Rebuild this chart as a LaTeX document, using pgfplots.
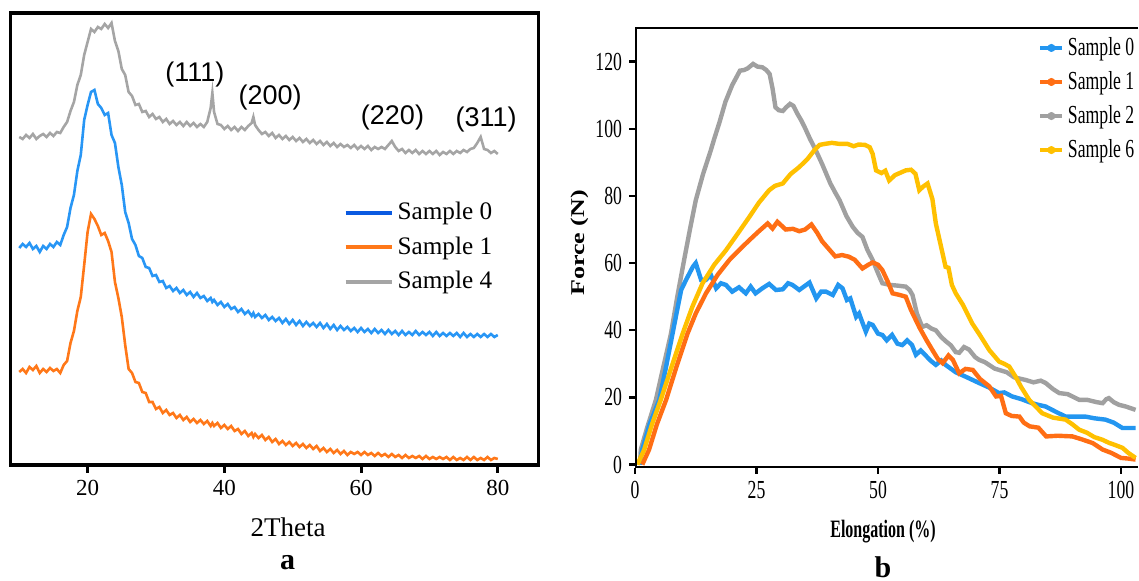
\documentclass[border=0pt]{standalone}
\usepackage{fontspec}
\setmainfont{Liberation Serif}
\newfontfamily\arialfont{Liberation Sans}
\usepackage{graphicx}
\usepackage{pgfplots}
\usepackage{pgfplotstable}
\pgfplotsset{compat=1.18}

\definecolor{xblue}{RGB}{40,150,245}
\definecolor{xblueleg}{RGB}{10,90,225}
\definecolor{xorange}{RGB}{255,120,25}
\definecolor{xgray}{RGB}{165,165,165}
\definecolor{rblue}{RGB}{35,150,240}
\definecolor{rorange}{RGB}{255,110,20}
\definecolor{rgray}{RGB}{160,160,160}
\definecolor{ryellow}{RGB}{255,192,0}

\newcommand\cnd[1]{\scalebox{0.68}[1]{#1}}

% XRD patterns, offset intensities (b = sample 0, o = sample 1, g = sample 4)
\pgfplotstableread{
x b o g
10 217 93 328
10.5 221 96 326
11 218 92 330
11.5 222 98 327
12 216 95 331
12.5 219 99 326
13 213 92 329
13.5 219 96 331
14 216 93 328
14.5 221 97 332
15 218 94 329
15.5 223 96 333
16 220 92 332
16.5 230 100 338
17 238 104 343
17.5 257 122 354
18 270 134 363
18.5 294 154 380
19 310 168 390
19.5 345 200 410
20 360 233 423
20.5 373 251 436
21 375 246 433
21.5 361 239 438
22 357 230 436
22.5 350 232 441
23 352 224 437
23.5 330 213 442
24 322 183 424
24.5 298 167 414
25 280 148 396
25.5 253 120 390
26 242 96 373
26.5 226 92 369
27 220 83 360
27.5 209 82 361
28 207 73 353
28.5 198 72 354
29 197 63 348
29.5 189 63 351
30 190 56 346
30.5 183 58 348
31 184 52 343
31.5 177 55 346
32 179 50 341
32.5 174 52 344
33 177 47 340
33.5 172 50 343
34 175 45 339
34.5 170 48 343
35 173 43 339
35.5 168 46 342
36 172 42 338
36.5 167 45 341
37 169 41 338
37.5 164 44 343
38 167 39 357
38.25 163 42 372
38.5 165 39 353
39 160 42 341
39.5 163 37 340
40 158 40 336
40.5 161 36 339
41 156 39 335
41.5 158 34 338
42 153 36 334
42.5 156 31 338
43 151 34 335
43.5 154 29 339
44 149 32 342
44.25 152 28 348
44.5 148 31 340
45 151 27 335
45.5 147 30 331
46 150 25 333
46.5 145 28 329
47 148 23 332
47.5 144 26 327
48 147 21 330
48.5 142 24 326
49 146 20 329
49.5 141 23 325
50 145 19 328
50.5 140 22 324
51 144 18 327
51.5 139 21 323
52 143 17 326
52.5 139 20 322
53 142 16 325
53.5 138 19 321
54 142 14 324
54.5 137 17 320
55 141 13 323
55.5 136 16 319
56 140 12 322
56.5 135 15 318
57 139 11 321
57.5 135 14 318
58 138 10 320
58.5 134 13 317
59 137 11 320
59.5 133 13 316
60 137 10 319
60.5 133 13 316
61 136 10 319
61.5 132 12 315
62 136 9 318
62.5 132 12 316
63 135 9 318
63.5 131 11 316
64 135 8 320
64.5 131 11 324
65 134 8 318
65.5 130 10 314
66 134 7 316
66.5 130 10 312
67 133 7 315
67.5 130 9 312
68 134 7 315
68.5 130 9 311
69 133 6 314
69.5 130 9 311
70 133 6 314
70.5 129 8 311
71 133 6 314
71.5 129 8 310
72 132 6 313
72.5 129 8 311
73 132 5 314
73.5 129 8 311
74 132 5 314
74.5 128 7 312
75 132 5 315
75.5 128 8 313
76 131 5 316
76.5 128 8 317
77 131 5 322
77.5 128 7 328
78 131 5 316
78.5 128 8 315
79 131 5 312
79.5 128 7 314
80 130 6 311
}\xrd

\begin{document}
\begin{tikzpicture}[x=1pt,y=1pt]
\path[use as bounding box] (0,0) rectangle (569.5,290.5);

% ---- panel a ----
\begin{axis}[
  at={(5.35pt,58pt)}, anchor=south west, scale only axis,
  width=263.7pt, height=226pt,
  xmin=8.75, xmax=85.9, ymin=0, ymax=452,
  xtick={20,40,60,80}, ytick=\empty, tick pos=left,
  tick align=outside, major tick length=4pt,
  tick style={black, line width=1.5pt},
  axis line style={line width=1.6pt},
  xticklabel style={font=\fontsize{11.5}{13}\selectfont},
  /pgf/number format/assume math mode=true,
  legend style={at={(axis cs:57.4,267)}, anchor=north west, draw=none, fill=none,
    font=\fontsize{12.6}{14}\selectfont, row sep=3pt, inner sep=0pt},
  legend cell align=left,
  legend image code/.code={\draw[#1, line width=2pt] (0pt,0pt) -- (23pt,0pt);},
]
\addlegendimage{color=xblueleg}
\addlegendentry{Sample 0}
\addlegendimage{color=xorange}
\addlegendentry{Sample 1}
\addlegendimage{color=xgray}
\addlegendentry{Sample 4}
\addplot[color=xgray, line width=1.3pt, forget plot] table[x=x, y=g]{\xrd};
\addplot[color=xblue, line width=1.3pt, forget plot] table[x=x, y=b]{\xrd};
\addplot[color=xorange, line width=1.3pt, forget plot] table[x=x, y=o]{\xrd};
\node[font=\arialfont\fontsize{13.5}{15}\selectfont] at (axis cs:35.7,390) {(111)};
\node[font=\arialfont\fontsize{13.5}{15}\selectfont] at (axis cs:46.7,367) {(200)};
\node[font=\arialfont\fontsize{13.5}{15}\selectfont] at (axis cs:64.6,347) {(220)};
\node[font=\arialfont\fontsize{13.5}{15}\selectfont] at (axis cs:78.3,345) {(311)};
\end{axis}
\node[font=\fontsize{13.5}{15}\selectfont] at (144,27) {2Theta};
\node[font=\bfseries\fontsize{15}{17}\selectfont, anchor=base, inner sep=0pt] at (143.75,5.5) {a};

% ---- panel b ----
\begin{axis}[
  at={(317.5pt,56.5pt)}, anchor=south west, scale only axis,
  width=251.5pt, height=220pt,
  xmin=0, xmax=103.5, ymin=-1, ymax=130,
  xtick={0,25,50,75,100},
  xticklabels={\cnd{0},\cnd{25},\cnd{50},\cnd{75},\cnd{100}},
  ytick={0,20,40,60,80,100,120},
  yticklabels={\cnd{0},\cnd{20},\cnd{40},\cnd{60},\cnd{80},\cnd{100},\cnd{120}},
  tick pos=left, tick align=outside, major tick length=3pt,
  tick style={black, line width=1.2pt},
  axis line style={draw=none},
  ticklabel style={font=\fontsize{13}{15}\selectfont},
  legend style={at={(axis cs:83,128.5)}, anchor=north west, draw=none, fill=none,
    font=\fontsize{13}{15}\selectfont, row sep=2.5pt, inner sep=0pt},
  legend cell align=left,
  legend image code/.code={\draw[#1, line width=1.6pt] (0pt,0pt) -- (11pt,0pt);
    \fill[#1] (5.5pt,0pt) circle (1.8pt);},
]
\addlegendimage{color=rblue}
\addlegendentry{\cnd{Sample 0}}
\addlegendimage{color=rorange}
\addlegendentry{\cnd{Sample 1}}
\addlegendimage{color=rgray}
\addlegendentry{\cnd{Sample 2}}
\addlegendimage{color=ryellow}
\addlegendentry{\cnd{Sample 6}}

% Sample 2
\addplot[color=rgray, line width=2.2pt, forget plot] coordinates {
(1,0) (1.2,4.5) (2.5,11) (4.3,19.3) (5.5,27) (7.4,39) (8.7,50) (10.1,60.9)
(11.3,70) (12.5,78.7) (14,86.5) (15.6,93.6) (16.3,97) (17.4,102) (18.6,108)
(20,113) (21.6,117.3) (22.5,117.5) (23.2,118) (24.3,119.3) (25.2,118.5)
(26.2,118.3) (27,117.5) (27.7,116.3) (28.3,112) (28.9,106.4) (29.6,105.5)
(30.4,105.3) (31.2,106.5) (31.9,107.4) (32.6,106.8) (33.4,104.5) (34.2,102.5)
(34.9,100.5) (36,97) (37.2,93.6) (38.5,89.5) (40.2,83.7) (41.2,81) (42.1,78.7)
(43.5,74) (44.8,70.8) (45.8,69) (46.8,67.8) (47.8,64) (48.9,60.9) (50,57)
(50.9,54) (52.5,53.5) (54,53.3) (55.7,53) (56.5,52) (57.1,50.5) (58,45)
(59.1,41) (60,41.5) (61,40.5) (61.9,40) (63,38) (63.9,36.8) (65,35.5) (66,33.5)
(66.7,33.3) (67.7,35) (68.7,34.3) (70,32) (70.8,31.2) (72,30.5) (74,28.6)
(74.9,28.2) (76.5,27.5) (78,26) (80.4,25.2) (82,24.5) (83.5,25) (84.5,24.3)
(86,22.5) (87.3,21.3) (89,21) (91.4,19.3) (93,19.3) (95,18.6) (96.2,18.3)
(97,19.5) (97.5,19.8) (98.5,18.6) (99.6,17.8) (101,17.3) (103,16.3)
};
% Sample 0
\addplot[color=rblue, line width=2.2pt, forget plot] coordinates {
(1,0) (1.5,4.5) (3,12) (5,19.3) (6.4,29.2) (8.4,44) (9.5,52) (10.5,55)
(11.9,58.9) (12.5,60) (13.6,55) (14.6,55) (15.6,56.5) (16.7,52.5) (17.7,54)
(18.7,53.5) (20,51.5) (21.4,52.8) (22.8,51) (23.8,53) (24.8,51) (26.2,52.5)
(27.6,53.8) (29,52) (30.4,52.2) (31.5,54) (32.4,53.5) (33.8,52) (35.9,54.2)
(37.3,49.5) (38.3,51.5) (39.3,51.5) (40.7,50.5) (41.8,53.5) (42.7,52.5)
(43.6,49) (44.3,49.5) (45.5,44) (46.1,45) (47,41.5) (47.5,39.6) (48.2,42)
(48.9,41.6) (50,39) (50.9,38.6) (51.8,37) (52.9,38.6) (54,36) (55,35.6) (56,37)
(57,35.6) (57.8,32.7) (58.8,34) (59.8,32.5) (60.8,31) (61.9,29.7) (63,31)
(63.9,29.7) (66,27.5) (68,26.2) (70.8,24.3) (72.8,23) (74.9,21.3) (76,21.5)
(77.6,20.3) (79.5,19.5) (81.7,18.3) (83,17.8) (84.5,17.3) (86.5,15.8)
(88.6,14.3) (92.7,14.3) (94.5,13.8) (96.8,13.4) (98.5,12.5) (100.3,10.9)
(103,10.9)
};
% Sample 1
\addplot[color=rorange, line width=2.2pt, forget plot] coordinates {
(1.5,0) (2.9,4.5) (4.5,12) (6.4,19.3) (8.5,29) (10.8,39) (12.5,45) (14.6,51)
(17,56.5) (19.4,60.9) (21.5,64) (23.5,66.8) (25.5,69.5) (27.3,71.8) (28.3,70.3)
(29.3,72.3) (31,70) (32.5,70.2) (33.8,69.5) (35,70) (36.3,71.5) (37.5,69)
(38.5,66.5) (40,64) (41.2,62) (42.6,62.4) (44,61.9) (45.2,61) (46.8,58.4)
(48,59.5) (48.9,60.2) (50,59.5) (50.9,57.9) (52,54.5) (53,51) (54.5,50.5)
(55.7,50) (56.8,46) (58.5,40.9) (60,37) (61.2,34.1) (62.3,31.5) (63.3,30.2)
(64.5,32.5) (65.4,31.2) (66.7,27.2) (68,28.5) (69.5,28.2) (71,25.5) (72.9,23.3)
(74.3,20.3) (75.3,20.5) (76.3,15.3) (77.5,14.5) (79.1,14.3) (80,12.5)
(81.2,11.4) (83,11) (84.6,8.4) (87,8.6) (90,8.4) (92,7.5) (94.2,6.4) (96.2,4.5)
(98,3.5) (100,2) (101.5,1.8) (103,1.5)
};
% Sample 6
\addplot[color=ryellow, line width=2.2pt, forget plot] coordinates {
(0.5,0) (1.9,4.5) (3.5,12) (5.3,19.3) (7.5,29) (9.8,39) (11.8,47) (13.9,54)
(16.3,59.5) (18.7,63.8) (21,68.5) (23.5,73.7) (25.5,78) (27.6,81.7) (28.8,83)
(30.4,83.7) (32,86.5) (33.8,88.6) (35.5,91) (36.9,93.6) (38,95.2) (39.1,95.5)
(40.5,95.8) (42,95.5) (43.7,95.5) (45,94.8) (46,95.3) (47.3,95.2) (48.3,94.5)
(48.9,92.5) (49.6,87.6) (50.7,86.8) (51.5,87.5) (52.3,84.6) (53.5,86.2)
(55.7,87.6) (56.8,87.8) (57.7,86.6) (58.5,81.7) (59.3,82.8) (60.2,83.7)
(61.2,79) (61.9,71.8) (62.8,66) (63.9,58.9) (64.5,58.6) (65.2,53.5) (66,51)
(67.5,47.5) (69.4,42) (71,38.5) (72.9,34.1) (74.9,30.7) (76,30) (77,29.2)
(78.3,26.2) (79.5,23) (81.1,19.3) (83.8,15.3) (86,14) (88.6,13.4) (90,12)
(91.4,10.4) (93,9.5) (94.5,8.2) (96.2,7.4) (97.5,6.5) (98.5,6) (100.3,5)
(101.5,3.5) (103,2)
};
\draw[line width=1.5pt] (rel axis cs:1,1) -- (rel axis cs:0,1) -- (rel axis cs:0,0) -- (rel axis cs:1,0);
\end{axis}
\node[rotate=90, font=\bfseries\fontsize{13}{15}\selectfont] at (290,169) {\scalebox{1}[0.75]{Force (N)}};
\node[font=\bfseries\fontsize{12.5}{14}\selectfont] at (441.5,24.5) {\scalebox{0.64}[1]{Elongation (\%)}};
\node[font=\bfseries\fontsize{15}{17}\selectfont, anchor=base, inner sep=0pt] at (441.5,1.8) {b};
\end{tikzpicture}
\end{document}
